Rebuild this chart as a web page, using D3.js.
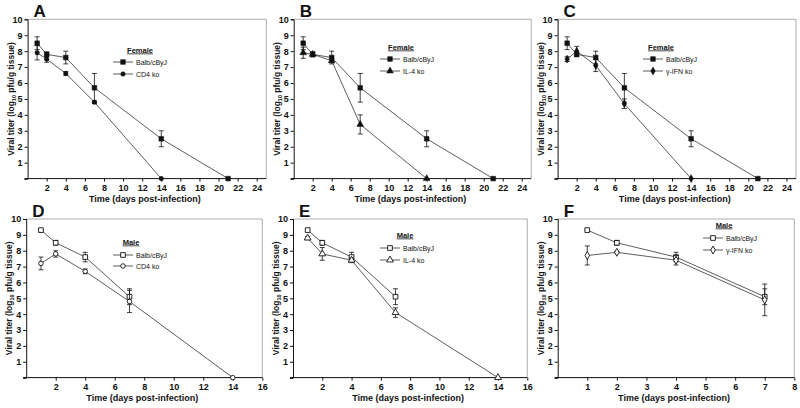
<!DOCTYPE html>
<html><head><meta charset="utf-8">
<script src="https://cdn.jsdelivr.net/npm/d3@7"></script>
<style>body{margin:0;background:#fff}svg{display:block;font-family:"Liberation Sans",Arial,sans-serif}</style>
</head><body><svg id="c" width="800" height="408"></svg>
<script>
// ---- data ----
const femaleBalbDays = [1, 2, 4, 7, 14, 21];
const femaleBalb = [8.5, 7.8, 7.6, 5.7, 2.5, 0];
const femaleBalbErr = [0.4, 0.15, 0.4, 0.9, 0.5, 0];
const femaleKoDays = [1, 2, 4, 7, 14];
const femaleCD4 = [7.9, 7.5, 6.6, 4.8, 0];
const femaleCD4Err = [0.45, 0.2, 0.12, 0.08, 0];
const femaleIL4 = [7.9, 7.8, 7.4, 3.4, 0];
const femaleIL4Err = [0.35, 0.15, 0.1, 0.6, 0];
const femaleIFN = [7.5, 8.0, 7.1, 4.7, 0];
const femaleIFNErr = [0.15, 0.3, 0.38, 0.3, 0];
const maleBalbDays = [1, 2, 4, 7];
const maleBalb = [9.3, 8.5, 7.6, 5.1];
const maleBalbErr = [0.05, 0.15, 0.3, 0.5];
const maleKoDays = [1, 2, 4, 7, 14];
const maleCD4 = [7.2, 7.8, 6.7, 4.8, 0];
const maleCD4Err = [0.4, 0.2, 0.15, 0.7, 0];
const maleIL4 = [8.8, 7.8, 7.4, 4.1, 0];
const maleIL4Err = [0.1, 0.4, 0.15, 0.3, 0];
const maleIFNDays = [1, 2, 4, 7];
const maleIFN = [7.7, 7.9, 7.4, 4.9];
const maleIFNErr = [0.6, 0.05, 0.3, 1.0];
const yTicks = [0,1,2,3,4,5,6,7,8,9,10];
const xTicksTop = [2,4,6,8,10,12,14,16,18,20,22,24];
const xTicksDE = [2,4,6,8,10,12,14,16];
const xTicksF = [1,2,3,4,5,6,7,8];
const balbLabel = "Balb/cByJ";

const panels = [
 {letter:"A", sex:"Female", filled:true, x0:27.6, x1:266.3, xmax:25, top:19.3, bot:178.6, xt:xTicksTop,
  lx:113, ly:62, gap:12, hx:140, hy:50,
  series:[{name:balbLabel, days:femaleBalbDays, v:femaleBalb, e:femaleBalbErr, sym:d3.symbolSquare},
          {name:"CD4 ko", days:femaleKoDays, v:femaleCD4, e:femaleCD4Err, sym:d3.symbolCircle}]},
 {letter:"B", sex:"Female", filled:true, x0:293.7, x1:531.2, xmax:25, top:19.3, bot:178.6, xt:xTicksTop,
  lx:380, ly:59, gap:12, hx:401, hy:47,
  series:[{name:balbLabel, days:femaleBalbDays, v:femaleBalb, e:femaleBalbErr, sym:d3.symbolSquare},
          {name:"IL-4 ko", days:femaleKoDays, v:femaleIL4, e:femaleIL4Err, sym:d3.symbolTriangle}]},
 {letter:"C", sex:"Female", filled:true, x0:557.6, x1:796, xmax:25, top:19.3, bot:178.6, xt:xTicksTop,
  lx:643, ly:59, gap:12, hx:661, hy:47,
  series:[{name:balbLabel, days:femaleBalbDays, v:femaleBalb, e:femaleBalbErr, sym:d3.symbolSquare},
          {name:"γ-IFN ko", days:femaleKoDays, v:femaleIFN, e:femaleIFNErr, sym:d3.symbolDiamond}]},
 {letter:"D", sex:"Male", filled:false, x0:26.2, x1:262.3, xmax:16, top:219, bot:377.6, xt:xTicksDE,
  lx:113, ly:255, gap:11, hx:131, hy:242,
  series:[{name:balbLabel, days:maleBalbDays, v:maleBalb, e:maleBalbErr, sym:d3.symbolSquare},
          {name:"CD4 ko", days:maleKoDays, v:maleCD4, e:maleCD4Err, sym:d3.symbolCircle}]},
 {letter:"E", sex:"Male", filled:false, x0:293, x1:527.3, xmax:16, top:219, bot:377.6, xt:xTicksDE,
  lx:380, ly:248, gap:12, hx:405, hy:235,
  series:[{name:balbLabel, days:maleBalbDays, v:maleBalb, e:maleBalbErr, sym:d3.symbolSquare},
          {name:"IL-4 ko", days:maleKoDays, v:maleIL4, e:maleIL4Err, sym:d3.symbolTriangle}]},
 {letter:"F", sex:"Male", filled:false, x0:557.7, x1:794.3, xmax:8, top:219, bot:377.6, xt:xTicksF,
  lx:703, ly:238, gap:12, hx:724, hy:225,
  series:[{name:balbLabel, days:maleBalbDays, v:maleBalb, e:maleBalbErr, sym:d3.symbolSquare},
          {name:"γ-IFN ko", days:maleIFNDays, v:maleIFN, e:maleIFNErr, sym:d3.symbolDiamond}]}
];

const svg = d3.select("#c");
const ink = "#111";
function symPath(sym){
  const size = sym===d3.symbolSquare?22: sym===d3.symbolCircle?16: sym===d3.symbolTriangle?20:18;
  return d3.symbol().type(sym).size(size)();
}

panels.forEach(p=>{
  const g = svg.append("g");
  const x = d3.scaleLinear().domain([0,p.xmax]).range([p.x0,p.x1]);
  const y = d3.scaleLinear().domain([0,10]).range([p.bot,p.top]);
  g.append("path").attr("d",`M${p.x0},${p.top}H${p.x1}V${p.bot}`).attr("fill","none").attr("stroke","#999").attr("stroke-width",0.8);
  const ya = g.append("g").attr("transform",`translate(${p.x0},0)`)
    .call(d3.axisLeft(y).tickValues(yTicks).tickSize(3).tickPadding(2).tickFormat(d=>d===0?"":d));
  const xa = g.append("g").attr("transform",`translate(0,${p.bot})`)
    .call(d3.axisBottom(x).tickValues(p.xt).tickSize(3).tickPadding(3).tickSizeOuter(0));
  [ya,xa].forEach(a=>{
    a.select(".domain").attr("stroke",ink).attr("stroke-width",1);
    a.selectAll(".tick line").attr("stroke",ink);
    a.selectAll("text").attr("font-size",9).attr("font-weight","bold").attr("fill",ink);
  });
  xa.select(".domain").attr("d",`M${p.x0-3},0H${p.x1}`);
  g.append("text").attr("x",(p.x0+p.x1)/2-2).attr("y",p.bot+23).attr("text-anchor","middle")
    .attr("font-size",9).attr("font-weight","bold").attr("fill",ink).text("Time (days post-infection)");
  const yt = g.append("text").attr("transform",`translate(${p.x0-14},${(p.top+p.bot)/2}) rotate(-90)`)
    .attr("text-anchor","middle").attr("font-size",8.5).attr("font-weight","bold").attr("fill",ink);
  yt.append("tspan").text("Viral titer (log");
  yt.append("tspan").attr("font-size",5.5).attr("dy",2).text("10");
  yt.append("tspan").attr("dy",-2).text(" pfu/g tissue)");
  g.append("text").attr("x",p.x0+6).attr("y",p.top-2.5).attr("font-size",17).attr("font-weight","bold")
    .attr("fill",ink).text(p.letter);
  p.series.forEach(s=>{
    const pts = s.days.map((d,i)=>({d, v:s.v[i], e:s.e[i]}));
    g.append("path").datum(pts).attr("fill","none").attr("stroke","#333").attr("stroke-width",0.8)
      .attr("d",d3.line().x(q=>x(q.d)).y(q=>y(q.v)));
    pts.filter(q=>q.e>0).forEach(q=>{
      const cx=x(q.d), y1=y(q.v+q.e), y2=y(Math.max(0,q.v-q.e));
      g.append("path").attr("d",`M${cx},${y1}V${y2}M${cx-2.5},${y1}H${cx+2.5}M${cx-2.5},${y2}H${cx+2.5}`)
        .attr("stroke",ink).attr("stroke-width",0.8).attr("fill","none");
    });
    g.selectAll(null).data(pts).join("path")
      .attr("transform",q=>`translate(${x(q.d)},${y(q.v)})`).attr("d",symPath(s.sym))
      .attr("fill",p.filled?ink:"#fff").attr("stroke",ink).attr("stroke-width",p.filled?0.5:0.9);
  });
  g.append("text").attr("x",p.hx).attr("y",p.hy+2.5).attr("text-anchor","middle").attr("font-size",7.5)
    .attr("font-weight","bold").attr("text-decoration","underline").attr("fill",ink).text(p.sex);
  p.series.forEach((s,i)=>{
    const ly = p.ly + i*p.gap;
    g.append("line").attr("x1",p.lx).attr("x2",p.lx+20).attr("y1",ly).attr("y2",ly).attr("stroke","#333").attr("stroke-width",0.8);
    g.append("path").attr("transform",`translate(${p.lx+10},${ly})`).attr("d",symPath(s.sym))
      .attr("fill",p.filled?ink:"#fff").attr("stroke",ink).attr("stroke-width",p.filled?0.5:0.9);
    g.append("text").attr("x",p.lx+23).attr("y",ly+2.5).attr("font-size",7).attr("fill",ink).text(s.name);
  });
});
</script></body></html>
